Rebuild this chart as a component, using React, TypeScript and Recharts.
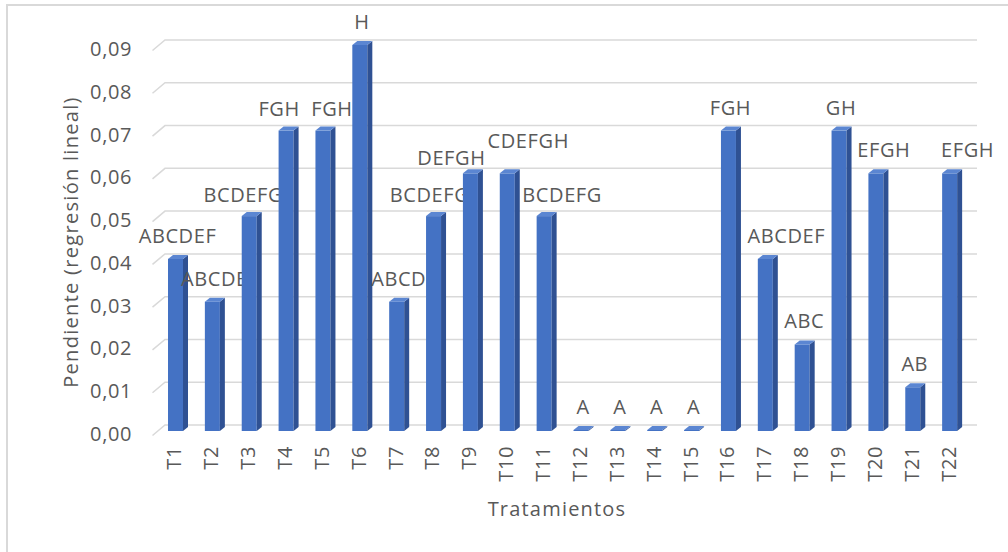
import { BarChart, Bar, XAxis, YAxis, CartesianGrid } from "recharts"

const categories = ["T1", "T2", "T3", "T4", "T5", "T6", "T7", "T8", "T9", "T10", "T11", "T12", "T13", "T14", "T15", "T16", "T17", "T18", "T19", "T20", "T21", "T22"]
const pendiente = [0.04, 0.03, 0.05, 0.07, 0.07, 0.09, 0.03, 0.05, 0.06, 0.06, 0.05, 0, 0, 0, 0, 0.07, 0.04, 0.02, 0.07, 0.06, 0.01, 0.06]
const letras = ["ABCDEF", "ABCDE", "BCDEFG", "FGH", "FGH", "H", "ABCD", "BCDEFG", "DEFGH", "CDEFGH", "BCDEFG", "A", "A", "A", "A", "FGH", "ABCDEF", "ABC", "GH", "EFGH", "AB", "EFGH"]
const yTicks = [0, 0.01, 0.02, 0.03, 0.04, 0.05, 0.06, 0.07, 0.08, 0.09]

const data = categories.map((t, i) => ({ t, pendiente: pendiente[i], letra: letras[i] }))

const FONT = "'Open Sans', sans-serif"
const GRAY = "#595959"
const GRID = "#D9D9D9"

// excel moved some overlapping labels a bit, [dx, dy]
const labelNudge: Record<string, [number, number]> = {
  T3: [-8, 2],
  T4: [-9, 1],
  T5: [7, 1],
  T8: [-6, 2],
  T9: [-21, 8],
  T10: [19, -9],
  T11: [16, 2],
  T17: [19, 0],
  T20: [6, 0],
  T22: [16, 0],
}

function Bar3D(props: any) {
  const { x, y, width, height, payload } = props
  const dx = 5
  const dy = 4
  const top = y + 5
  const bottom = y + height + 6
  const [nx, ny] = labelNudge[payload.t] ?? [0, 0]
  return (
    <g>
      {bottom - top > 0.5 && <rect x={x} y={top} width={width} height={bottom - top} fill="#4472C4" />}
      <path
        d={`M${x + width},${top} L${x + width + dx},${top - dy} L${x + width + dx},${bottom - dy} L${x + width},${bottom} Z`}
        fill="#2F5193"
      />
      <path
        d={`M${x},${top} L${x + dx},${top - dy} L${x + width + dx},${top - dy} L${x + width},${top} Z`}
        fill="#5B86D2"
      />
      <text
        x={x + width / 2 + 2 + nx}
        y={y - 11 + ny}
        textAnchor="middle"
        fontFamily={FONT}
        fontSize={20}
        fill={GRAY}
        style={{ letterSpacing: 0.6 }}
      >
        {payload.letra}
      </text>
    </g>
  )
}

const gridLine = (p: any) => (
  <path
    key={`g-${p.y1}`}
    d={`M${p.x1 - 4.5},${p.y1 + 10.5} L${p.x1 + 8},${p.y1} L${p.x2 + 9},${p.y1}`}
    stroke={GRID}
    strokeWidth={1.5}
    fill="none"
  />
)

const XTick = (p: any) => (
  <text
    x={p.x}
    y={446}
    dy={6}
    transform={`rotate(-90 ${p.x} 446)`}
    textAnchor="end"
    fontFamily={FONT}
    fontSize={20}
    fill={GRAY}
    style={{ letterSpacing: 0.6 }}
  >
    {p.payload.value}
  </text>
)

const YTick = (p: any) => (
  <text x={132} y={p.y + 9} dy={7} textAnchor="end" fontFamily={FONT} fontSize={20} fill={GRAY} style={{ letterSpacing: 0.6 }}>
    {Number(p.payload.value).toFixed(2).replace(".", ",")}
  </text>
)

export default function App() {
  return (
    <div style={{ position: "absolute", left: 0, top: 0, width: 1008, height: 552, overflow: "hidden", background: "#fff" }}>
      <div style={{ position: "absolute", left: 6, top: 4, width: 1100, height: 700, border: `2px solid ${GRID}` }} />
      <div style={{ position: "absolute", left: 0, top: 0 }}>
        <BarChart width={1008} height={552} data={data} margin={{ top: 40, right: 40, bottom: 27, left: 0 }}>
          <CartesianGrid vertical={false} horizontal={gridLine} />
          <XAxis
            dataKey="t"
            interval={0}
            tickLine={false}
            axisLine={false}
            height={100}
            tick={XTick}
            label={() => (
              <text x={557} y={516} textAnchor="middle" fontFamily={FONT} fontSize={20} fill={GRAY} style={{ letterSpacing: 1.2 }}>
                Tratamientos
              </text>
            )}
          />
          <YAxis
            width={157}
            domain={[0, 0.09]}
            ticks={yTicks}
            tickLine={false}
            axisLine={false}
            tick={YTick}
            label={() => (
              <text
                x={70}
                y={242}
                transform="rotate(-90 70 242)"
                textAnchor="middle"
                dominantBaseline="central"
                fontFamily={FONT}
                fontSize={20}
                fill={GRAY}
                style={{ letterSpacing: 1.3 }}
              >
                Pendiente (regresión lineal)
              </text>
            )}
          />
          <Bar dataKey="pendiente" barSize={15} isAnimationActive={false} shape={Bar3D} />
        </BarChart>
      </div>
    </div>
  )
}
